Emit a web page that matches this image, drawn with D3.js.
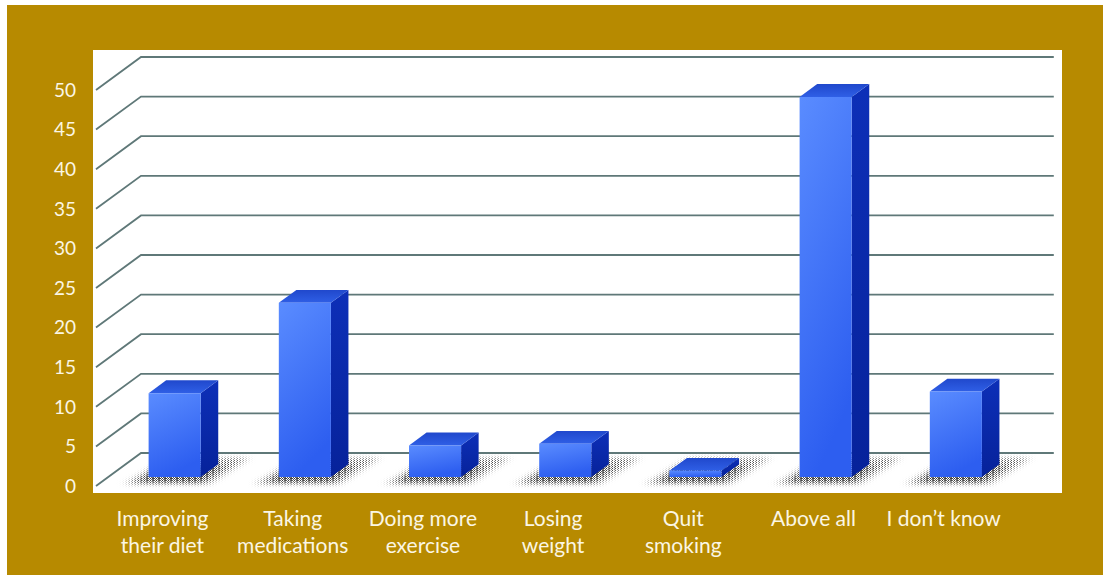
<!DOCTYPE html>
<html>
<head>
<meta charset="utf-8">
<script src="https://cdn.jsdelivr.net/npm/d3@7"></script>
<style>
  html, body { margin: 0; padding: 0; background: #ffffff; }
  svg { display: block; }
</style>
</head>
<body>
<svg id="chart" width="1103" height="575"></svg>
<script>
// ---- data ----
const categories = [
  ["Improving", "their diet"],
  ["Taking", "medications"],
  ["Doing more", "exercise"],
  ["Losing", "weight"],
  ["Quit", "smoking"],
  ["Above all"],
  ["I don\u2019t know"]
];
const values = [10.6, 22.0, 4.0, 4.2, 0.8, 48.0, 10.8];
const yTicks = [0, 5, 10, 15, 20, 25, 30, 35, 40, 45, 50];

// ---- layout ----
const W = 1103, H = 575;
const svg = d3.select("#chart");
const DX = 45, DY = -33;          // full depth offset of the 3D box
const barD0 = 0.27, barD1 = 0.66; // bar depth span (fraction of full depth)

const keys = categories.map(c => c.join(" "));
const x = d3.scaleBand().domain(keys).range([97.4, 1008.8]);
const y = d3.scaleLinear().domain([0, 50]).range([486, 90]);

const P = (px, v, d) => [px + d * DX, y(v) + d * DY];
const poly = pts => pts.map(p => p.join(",")).join(" ");

const defs = svg.append("defs");

// background
svg.append("rect").attr("x", 7).attr("y", 5).attr("width", W - 7).attr("height", H - 5).attr("fill", "#b78a00");
svg.append("rect").attr("x", 93).attr("y", 50).attr("width", 969).attr("height", 443).attr("fill", "#ffffff");

// gridlines
const gridColor = "#5f7878";
const xL = x.range()[0] - 1.4, xR = x.range()[1];
const grid = svg.append("g");
yTicks.forEach(t => {
  const a = P(xL, t, 0), b = P(xL, t, 1), c = P(xR, t, 1);
  grid.append("path")
    .attr("d", `M${a[0]},${a[1]}L${b[0]},${b[1]}L${c[0]},${c[1]}`)
    .attr("fill", "none").attr("stroke", gridColor).attr("stroke-width", 1.8);
});

// y labels
svg.append("g").selectAll("text").data(yTicks).join("text")
  .attr("x", 76).attr("y", d => y(d)).attr("dy", "0.36em")
  .attr("text-anchor", "end")
  .attr("font-family", "Lato, 'Open Sans', sans-serif").attr("font-size", 19)
  .attr("fill", "#fbf6e4")
  .text(d => d);

// shadows: dithered patterns masked by blurred footprints
const pat = defs.append("pattern").attr("id", "dither").attr("patternUnits", "userSpaceOnUse")
  .attr("width", 3).attr("height", 2);
pat.append("rect").attr("width", 1).attr("height", 1).attr("fill", "#444");
pat.append("rect").attr("x", 2).attr("y", 1).attr("width", 1).attr("height", 1).attr("fill", "#777");
const pat2 = defs.append("pattern").attr("id", "dither2").attr("patternUnits", "userSpaceOnUse")
  .attr("width", 2).attr("height", 2);
pat2.append("rect").attr("width", 1).attr("height", 1).attr("fill", "#333");
pat2.append("rect").attr("x", 1).attr("y", 1).attr("width", 1).attr("height", 1).attr("fill", "#555");

defs.append("filter").attr("id", "blurS").attr("x", "-30%").attr("y", "-60%").attr("width", "160%").attr("height", "220%")
  .append("feGaussianBlur").attr("stdDeviation", "4 2");

const bw = x.bandwidth() * 0.4;
const barX = k => x(k) + (x.bandwidth() - bw) / 2;

const maskOuter = defs.append("mask").attr("id", "shMask").attr("maskUnits", "userSpaceOnUse")
  .attr("x", 0).attr("y", 0).attr("width", W).attr("height", H);
const maskInner = defs.append("mask").attr("id", "shMask2").attr("maskUnits", "userSpaceOnUse")
  .attr("x", 0).attr("y", 0).attr("width", W).attr("height", H);
keys.forEach(k => {
  const l = barX(k) - 14, r = barX(k) + bw + 18;
  maskOuter.append("polygon")
    .attr("points", poly([P(l, 0, 0.05), P(r, 0, 0.05), P(r + 4, 0, 0.85), P(l + 8, 0, 0.85)]))
    .attr("fill", "#ffffff").attr("filter", "url(#blurS)");
  const l2 = barX(k) - 4, r2 = barX(k) + bw + 8;
  maskInner.append("polygon")
    .attr("points", poly([P(l2, 0, 0.12), P(r2, 0, 0.12), P(r2, 0, 0.6), P(l2, 0, 0.6)]))
    .attr("fill", "#ffffff").attr("filter", "url(#blurS)");
});
svg.append("rect").attr("x", 93).attr("y", 430).attr("width", 969).attr("height", 62)
  .attr("fill", "url(#dither)").attr("mask", "url(#shMask)");
svg.append("rect").attr("x", 93).attr("y", 430).attr("width", 969).attr("height", 62)
  .attr("fill", "url(#dither2)").attr("mask", "url(#shMask2)");

// bar gradients
const gFront = defs.append("linearGradient").attr("id", "gFront").attr("x1", 0).attr("y1", 0).attr("x2", 0.3).attr("y2", 1);
gFront.append("stop").attr("offset", 0).attr("stop-color", "#5a8cff");
gFront.append("stop").attr("offset", 1).attr("stop-color", "#2d5ef0");
const gSide = defs.append("linearGradient").attr("id", "gSide").attr("x1", 0).attr("y1", 0).attr("x2", 0).attr("y2", 1);
gSide.append("stop").attr("offset", 0).attr("stop-color", "#0d2fb8");
gSide.append("stop").attr("offset", 1).attr("stop-color", "#06229a");
const gTop = defs.append("linearGradient").attr("id", "gTop").attr("x1", 0).attr("y1", 1).attr("x2", 0).attr("y2", 0);
gTop.append("stop").attr("offset", 0).attr("stop-color", "#2f5fe6");
gTop.append("stop").attr("offset", 1).attr("stop-color", "#2048cc");

const bars = svg.append("g").selectAll("g").data(keys.map((k, i) => ({ k, v: values[i] }))).join("g");
bars.append("polygon").attr("fill", "url(#gSide)")
  .attr("points", d => {
    const r = barX(d.k) + bw;
    return poly([P(r, 0, barD0), P(r, 0, barD1), P(r, d.v, barD1), P(r, d.v, barD0)]);
  });
bars.append("polygon").attr("fill", "url(#gTop)")
  .attr("points", d => {
    const l = barX(d.k), r = l + bw;
    return poly([P(l, d.v, barD0), P(r, d.v, barD0), P(r, d.v, barD1), P(l, d.v, barD1)]);
  });
bars.append("polygon").attr("fill", "url(#gFront)")
  .attr("points", d => {
    const l = barX(d.k), r = l + bw;
    return poly([P(l, 0, barD0), P(r, 0, barD0), P(r, d.v, barD0), P(l, d.v, barD0)]);
  });

// category labels
const lab = svg.append("g").selectAll("text").data(categories).join("text")
  .attr("x", (d, i) => x(keys[i]) + x.bandwidth() / 2)
  .attr("y", 526)
  .attr("text-anchor", "middle")
  .attr("font-family", "Lato, 'Open Sans', sans-serif").attr("font-size", 21)
  .attr("fill", "#fbf6e4");
lab.selectAll("tspan").data(d => d).join("tspan")
  .attr("x", function () { return this.parentNode.getAttribute("x"); })
  .attr("dy", (d, i) => i === 0 ? 0 : 27)
  .text(d => d);
</script>
</body>
</html>
